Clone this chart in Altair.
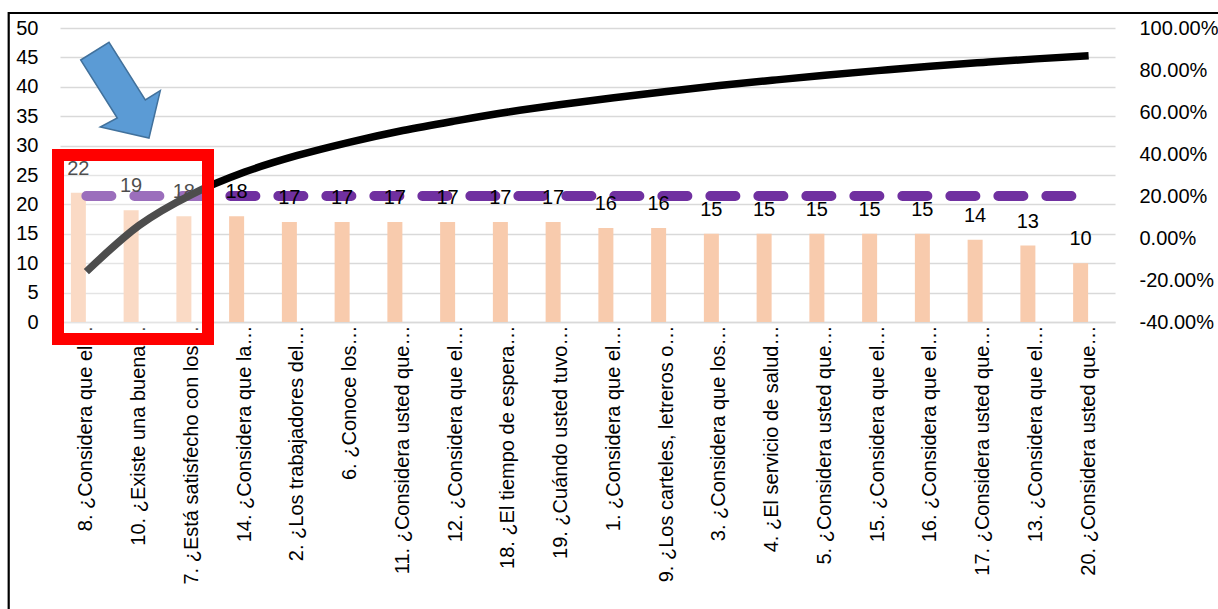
import altair as alt
import pandas as pd

# Preguntas de la encuesta, ordenadas de mayor a menor frecuencia
preguntas = [
    "8. ¿Considera que el…",
    "10. ¿Existe una buena…",
    "7. ¿Está satisfecho con los…",
    "14. ¿Considera que la…",
    "2. ¿Los trabajadores del…",
    "6. ¿Conoce los…",
    "11. ¿Considera usted que…",
    "12. ¿Considera que el…",
    "18. ¿El tiempo de espera…",
    "19. ¿Cuándo usted tuvo…",
    "1. ¿Considera que el…",
    "9. ¿Los carteles, letreros o…",
    "3. ¿Considera que los…",
    "4. ¿El servicio de salud…",
    "5. ¿Considera usted que…",
    "15. ¿Considera que el…",
    "16. ¿Considera que el…",
    "17. ¿Considera usted que…",
    "13. ¿Considera que el…",
    "20. ¿Considera usted que…",
]

# Frecuencia de respuestas por pregunta (eje izquierdo)
frecuencias = [22, 19, 18, 18, 17, 17, 17, 17, 17, 17, 16, 16, 15, 15, 15, 15, 15, 14, 13, 10]

# Curva acumulada (eje derecho)
acumulado = [-0.160, 0.060, 0.208, 0.314, 0.393, 0.457, 0.512, 0.558, 0.600, 0.636,
             0.668, 0.698, 0.726, 0.751, 0.775, 0.797, 0.818, 0.836, 0.853, 0.868]

# Línea de referencia del 20 % (eje derecho)
limite = [0.20, 0.20, 0.20, 0.20, 0.20, 0.20, 0.20, 0.20, 0.20, 0.20,
          0.20, 0.20, 0.20, 0.20, 0.20, 0.20, 0.20, 0.20, 0.20, 0.20]

df = pd.DataFrame({
    "pregunta": preguntas,
    "frecuencia": frecuencias,
    "acumulado": acumulado,
    "limite": limite,
})

FONT = "Liberation Sans"
W, H = 1055, 294

x_enc = alt.X(
    "pregunta:N",
    sort=preguntas,
    scale=alt.Scale(paddingInner=0.1, paddingOuter=0.05),
    axis=alt.Axis(
        title=None,
        labelAngle=270,
        labelAlign="right",
        labelBaseline="middle",
        labelFont=FONT,
        labelFontSize=20,
        labelColor="#000000",
        labelPadding=3,
        labelLimit=500,
        ticks=False,
        domainColor="#D9D9D9",
        domainWidth=1.5,
        grid=False,
    ),
)

base = alt.Chart(df)

barras = base.mark_bar(color="#F8CBAD", width=15, xOffset=-8).encode(
    x=x_enc,
    y=alt.Y(
        "frecuencia:Q",
        scale=alt.Scale(domain=[0, 50], nice=False, zero=True),
        axis=alt.Axis(
            orient="left",
            title=None,
            values=[0, 5, 10, 15, 20, 25, 30, 35, 40, 45, 50],
            grid=True,
            gridColor="#D9D9D9",
            gridWidth=1.5,
            domain=False,
            ticks=False,
            labelFont=FONT,
            labelFontSize=20,
            labelColor="#000000",
            labelPadding=22,
        ),
    ),
)

linea_limite = base.mark_line(
    color="#7030A0", strokeWidth=10, strokeDash=[25, 23], strokeCap="round"
).encode(
    x=x_enc,
    y=alt.Y(
        "limite:Q",
        scale=alt.Scale(domain=[-0.4, 1.0], nice=False, zero=False),
        axis=alt.Axis(
            orient="right",
            title=None,
            values=[-0.4, -0.2, 0.0, 0.2, 0.4, 0.6, 0.8, 1.0],
            labelExpr="replace(format(datum.value, '.2%'), '\u2212', '-')",
            grid=False,
            domain=False,
            ticks=False,
            labelFont=FONT,
            labelFontSize=20,
            labelColor="#000000",
            labelPadding=24,
            labelAlign="left",
        ),
    ),
)

etiquetas = base.mark_text(
    font=FONT, fontSize=20, color="#000000", baseline="middle", align="center",
    xOffset=-8, dy=-24,
).encode(
    x=x_enc,
    y=alt.Y("frecuencia:Q", scale=alt.Scale(domain=[0, 50], nice=False), axis=None),
    text=alt.Text("frecuencia:Q", format="d"),
)

curva = base.mark_line(color="#000000", strokeWidth=7.5, interpolate="monotone").encode(
    x=x_enc,
    y=alt.Y("acumulado:Q", scale=alt.Scale(domain=[-0.4, 1.0], nice=False, zero=False), axis=None),
)

uno = alt.Chart(pd.DataFrame({"k": [0]}))

# Recuadro rojo semitransparente sobre las tres primeras preguntas
recuadro = uno.mark_rect(
    fill="#FFFFFF", fillOpacity=0.3, stroke="#FF0000", strokeWidth=12
).encode(
    x=alt.value(-2), x2=alt.value(148), y=alt.value(127), y2=alt.value(311)
)

# Flecha azul que señala el recuadro
flecha_path = "M 20.7 32 L 49 14.3 L 85.3 72 L 100.3 62.7 L 89 110 L 40.3 99 L 57.3 90 Z"
flecha = uno.mark_point(
    shape=flecha_path, size=4, filled=True, fill="#5B9BD5", stroke="#41719C",
    strokeWidth=1.5, opacity=1,
).encode(x=alt.value(0), y=alt.value(0))

# Marco exterior
marco = uno.mark_rect(fill="transparent", stroke="#000000", strokeWidth=2.2).encode(
    x=alt.value(-51.3), x2=alt.value(1180), y=alt.value(-15), y2=alt.value(610)
)

chart = (
    alt.layer(barras, linea_limite, etiquetas, curva, recuadro, flecha, marco)
    .resolve_scale(y="independent")
    .properties(
        width=W,
        height=H,
        autosize=alt.AutoSizeParams(type="none"),
        padding={"left": 60, "top": 28, "right": 1218 - 60 - W, "bottom": 609 - 28 - H},
        background="#FFFFFF",
    )
    .configure_view(strokeWidth=0)
)

chart.save("out.html", embed_options={"renderer": "svg", "actions": False})
